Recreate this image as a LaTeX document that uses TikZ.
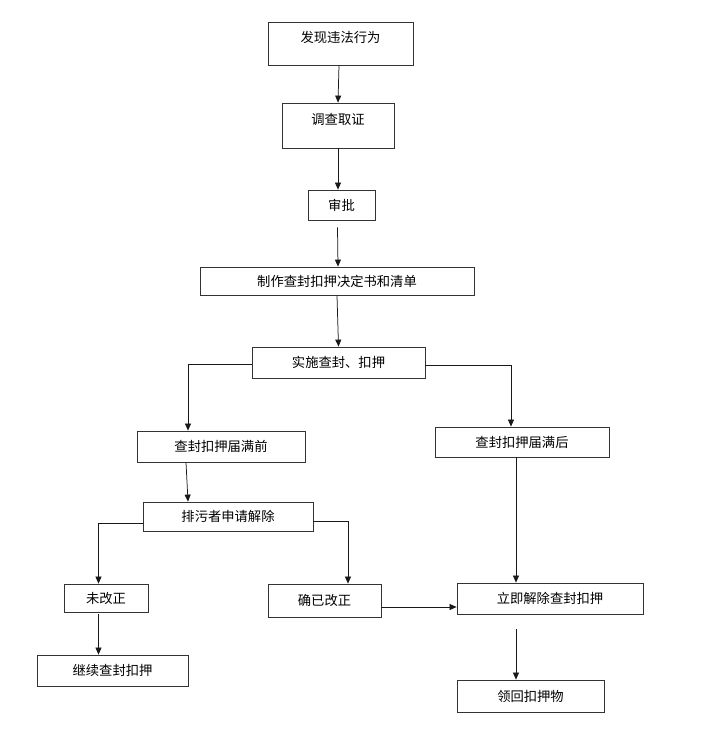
\documentclass[tikz,border=0pt]{standalone}
\usepackage{fontspec}
\setmainfont{Noto Sans CJK SC}
\usetikzlibrary{arrows.meta, positioning}

\begin{document}
\begin{tikzpicture}[
    >={Triangle[length=7pt, width=6pt]},
    block/.style={draw=black!80, line width=0.8pt, rectangle, inner sep=0pt, align=center, font=\fontsize{13.3}{15}\selectfont},
    link/.style={draw=black!90, line width=0.75pt}
]

    \useasboundingbox (0,0) rectangle (725pt,-740pt);

    % 主流程
    \node[block, minimum width=145pt, text height=20pt, text depth=23pt] (find) at (340.5pt,-43.5pt) {发现违法行为};
    \node[block, minimum width=112pt, text height=21pt, text depth=24pt, below of=find, node distance=82pt, xshift=-2.5pt] (probe) {调查取证};
    \node[block, minimum width=67pt, minimum height=30pt, below of=probe, node distance=79.5pt, xshift=3.5pt] (approve) {审批};
    \node[block, minimum width=274pt, minimum height=28pt, below of=approve, node distance=76pt, xshift=-4.5pt] (decide) {制作查封扣押决定书和清单};
    \node[block, minimum width=173pt, minimum height=31pt, below of=decide, node distance=81.5pt, xshift=1.5pt] (seize) {实施查封、扣押};

    % 两个分支
    \node[block, minimum width=168pt, minimum height=31pt, below of=seize, node distance=84pt, xshift=-117.5pt] (before) {查封扣押届满前};
    \node[block, minimum width=174pt, minimum height=30pt, below of=seize, node distance=79.5pt, xshift=183.5pt] (after) {查封扣押届满后};
    \node[block, minimum width=170pt, minimum height=29pt, below of=before, node distance=70pt, xshift=7pt] (apply) {排污者申请解除};
    \node[block, minimum width=84pt, minimum height=28pt, below of=apply, node distance=81.5pt, xshift=-122pt] (unfixed) {未改正};
    \node[block, minimum width=113pt, minimum height=33pt, below of=apply, node distance=84pt, xshift=96.5pt] (fixed) {确已改正};
    \node[block, minimum width=186pt, minimum height=31pt, below of=after, node distance=156.5pt, xshift=28pt] (release) {立即解除查封扣押};
    \node[block, minimum width=151pt, minimum height=31pt, below of=unfixed, node distance=72.5pt, xshift=6.5pt] (keep) {继续查封扣押};
    \node[block, minimum width=147pt, minimum height=32pt, below of=release, node distance=97.5pt, xshift=-19.5pt] (retrieve) {领回扣押物};

    % 连线
    \draw[link, ->] ([xshift=-1.5pt]find.south) -- (probe.north);
    \draw[link, ->] (probe.south) -- (probe.south |- approve.north);
    \draw[link, ->] ([xshift=-4pt, yshift=-7pt]approve.south) -- ([xshift=1pt]decide.north);
    \draw[link, ->] (decide.south) -- (seize.north);
    \draw[link, ->] ([yshift=-2pt]seize.west) -| ([xshift=-33pt]before.north);
    \draw[link, ->] ([yshift=-2.5pt]seize.east) -| ([xshift=-11pt]after.north);
    \draw[link, ->] ([xshift=-35pt]before.south) -- ([xshift=-40pt]apply.north);
    \draw[link, ->] ([yshift=-7pt]apply.west) -| ([xshift=-7.5pt]unfixed.north);
    \draw[link, ->] ([yshift=-5pt]apply.east) -| ([xshift=23.5pt]fixed.north);
    \draw[link, ->] ([xshift=-6pt]after.south) -- ([xshift=-6pt]after.south |- release.north);
    \draw[link, ->] ([yshift=-6.5pt]fixed.east) -- ([yshift=-6.5pt]fixed.east -| release.west);
    \draw[link, ->] ([xshift=-7.5pt, yshift=-2pt]unfixed.south) -- ([xshift=-7.5pt]unfixed.south |- keep.north);
    \draw[link, ->] ([xshift=-34pt, yshift=-15pt]release.south) -- ([xshift=-34pt]release.south |- retrieve.north);

\end{tikzpicture}
\end{document}
